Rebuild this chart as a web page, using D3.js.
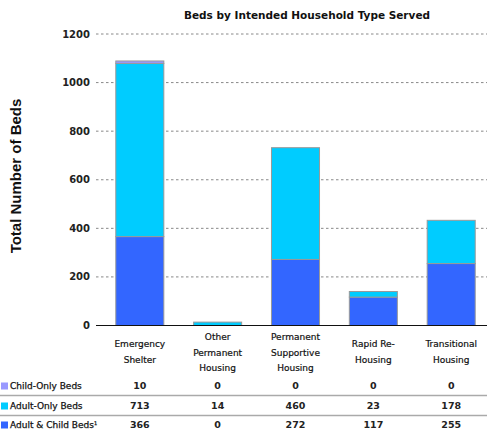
<!DOCTYPE html>
<html><head><meta charset="utf-8">
<script src="https://cdn.jsdelivr.net/npm/d3@7"></script>
<style>body{margin:0;background:#fff}svg{display:block}</style>
</head><body>
<script>
const categories = [["Emergency","Shelter"],["Other","Permanent","Housing"],["Permanent","Supportive","Housing"],["Rapid Re-","Housing"],["Transitional","Housing"]];
const seriesNames = ["Adult & Child Beds", "Adult-Only Beds", "Child-Only Beds"];
const adultChild = [366, 0, 272, 117, 255];
const adultOnly = [713, 14, 460, 23, 178];
const childOnly = [10, 0, 0, 0, 0];
const yTicks = [0, 200, 400, 600, 800, 1000, 1200];
const colors = ["#3366FF", "#00CCFF", "#9999FF"];
const tableRows = [
  {label: "Child-Only Beds", values: childOnly, color: colors[2]},
  {label: "Adult-Only Beds", values: adultOnly, color: colors[1]},
  {label: "Adult & Child Beds", values: adultChild, color: colors[0], sup: "1"}
];

const W = 487, H = 433;
const font = "'DejaVu Sans', Verdana, sans-serif";
const svg = d3.select("body").append("svg").attr("width", W).attr("height", H);

const x = d3.scaleBand().domain(d3.range(categories.length)).range([101, 490]).paddingInner(0.383).paddingOuter(0.19);
const y = d3.scaleLinear().domain([0, 1200]).range([325.5, 34]);

// grid
svg.append("g").selectAll("line").data(yTicks.filter(d => d > 0)).join("line")
  .attr("x1", 96).attr("x2", W).attr("y1", d => y(d)).attr("y2", d => y(d))
  .attr("stroke", "#888").attr("stroke-width", 1).attr("stroke-dasharray", "2.5,2.5");

// tick labels
svg.append("g").selectAll("text").data(yTicks).join("text")
  .attr("x", 90).attr("y", d => y(d)).attr("dy", "0.35em")
  .attr("text-anchor", "end").attr("font-family", font).attr("font-weight", "bold")
  .attr("font-size", 10).attr("fill", "#222").text(d => d);

// stacks
const data = categories.map((c, i) => ({i, a: adultChild[i], b: adultOnly[i], c: childOnly[i]}));
const stack = d3.stack().keys(["a", "b", "c"])(data);
svg.append("g").selectAll("g").data(stack).join("g")
  .attr("fill", (d, k) => colors[k])
  .selectAll("rect").data(d => d.filter(s => s[1] - s[0] > 0)).join("rect")
  .attr("x", s => x(s.data.i)).attr("width", x.bandwidth())
  .attr("y", s => y(s[1])).attr("height", s => y(s[0]) - y(s[1]))
  .attr("stroke", "#999").attr("stroke-width", 1);

// axis line
svg.append("line").attr("x1", 96).attr("x2", W).attr("y1", y(0)).attr("y2", y(0))
  .attr("stroke", "#111").attr("stroke-width", 1.2);

// category labels
const catG = svg.append("g");
categories.forEach((lines, i) => {
  const cx = x(i) + x.bandwidth() / 2;
  const n = lines.length;
  const startY = n === 3 ? 337 : 344;
  lines.forEach((ln, j) => {
    catG.append("text").attr("x", cx).attr("y", startY + j * 15.5).attr("dy", "0.35em")
      .attr("text-anchor", "middle").attr("font-family", font).attr("font-size", 9)
      .attr("fill", "#111").attr("stroke", "#111").attr("stroke-width", 0.2).text(ln);
  });
});

// title
svg.append("text").attr("x", 307).attr("y", 15).attr("dy", "0.35em")
  .attr("text-anchor", "middle").attr("font-family", font).attr("font-weight", "bold")
  .attr("font-size", 10.5).attr("fill", "#111").text("Beds by Intended Household Type Served");

// y title
svg.append("text").attr("transform", "translate(16,176) rotate(-90)").attr("dy", "0.35em")
  .attr("text-anchor", "middle").attr("font-family", "'Liberation Sans', Arial, sans-serif").attr("font-weight", "bold")
  .attr("font-size", 15).attr("fill", "#111").text("Total Number of Beds");

// table
const rowY = [386, 406, 425];
const tg = svg.append("g");
[395.5, 415.5].forEach(ly => tg.append("line").attr("x1", 0).attr("x2", W).attr("y1", ly).attr("y2", ly)
  .attr("stroke", "#aaa").attr("stroke-width", 1.5));
tableRows.forEach((r, k) => {
  tg.append("rect").attr("x", 1).attr("y", rowY[k] - 3.5).attr("width", 7).attr("height", 7).attr("fill", r.color);
  const t = tg.append("text").attr("x", 10).attr("y", rowY[k]).attr("dy", "0.35em")
    .attr("font-family", font).attr("font-size", 9).attr("fill", "#111")
    .attr("stroke", "#111").attr("stroke-width", 0.25).text(r.label);
  if (r.sup) t.append("tspan").attr("font-size", 5).attr("dy", "-0.6em").text(r.sup);
  r.values.forEach((v, i) => {
    tg.append("text").attr("x", x(i) + x.bandwidth() / 2).attr("y", rowY[k]).attr("dy", "0.35em")
      .attr("text-anchor", "middle").attr("font-family", font).attr("font-size", 9.5).attr("font-weight", "bold")
      .attr("fill", "#222").text(v);
  });
});
</script>
</body></html>
